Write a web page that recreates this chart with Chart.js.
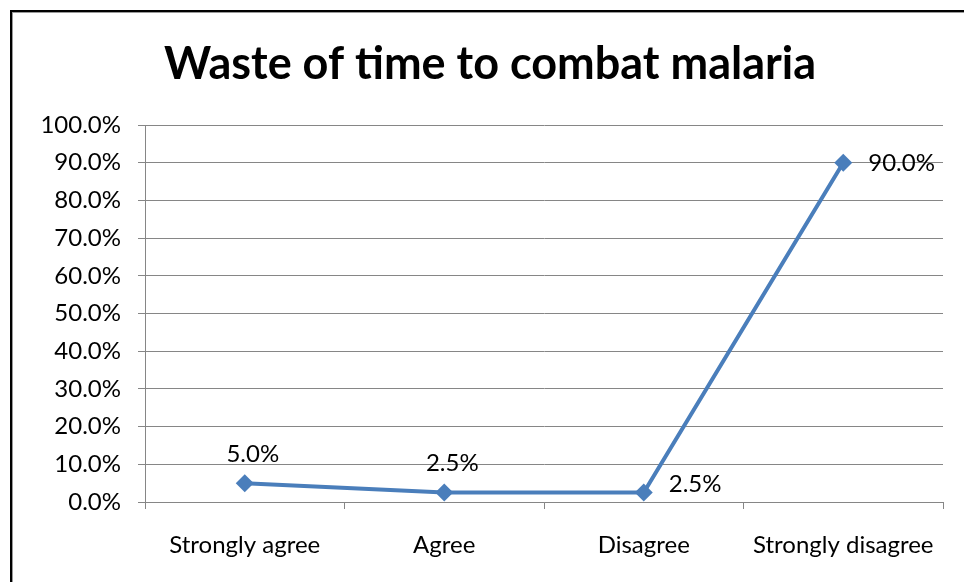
<!DOCTYPE html>
<html>
<head>
<meta charset="utf-8">
<script src="https://cdn.jsdelivr.net/npm/chart.js@4/dist/chart.umd.min.js"></script>
<style>
  html, body { margin: 0; padding: 0; background: #fff; overflow: hidden; }
  #wrap { position: relative; width: 964px; height: 582px; }
  #frame { position: absolute; left: 10px; top: 10px; width: 1000px; height: 700px;
           border-left: 2px solid #000; border-top: 2px solid #000;
           box-shadow: inset 1px 1px 0 #999; }
  canvas { position: absolute; left: 0; top: 0; }
</style>
</head>
<body>
<div id="wrap">
  <div id="frame"></div>
  <canvas id="c" width="964" height="582"></canvas>
</div>
<script>
const chartTitle = "Waste of time to combat malaria";
const categories = ["Strongly agree", "Agree", "Disagree", "Strongly disagree"];
const values = [5.0, 2.5, 2.5, 90.0];
const yTicks = [0, 10, 20, 30, 40, 50, 60, 70, 80, 90, 100];
const labelSide = ["top", "top", "right", "right"];

const FONT = "Lato, 'Open Sans', sans-serif";

const labelsPlugin = {
  id: 'valueLabels',
  afterDatasetsDraw(chart) {
    const ctx = chart.ctx;
    const meta = chart.getDatasetMeta(0);
    ctx.save();
    ctx.font = "24px " + FONT;
    ctx.fillStyle = "#000";
    ctx.textBaseline = "middle";
    meta.data.forEach((pt, i) => {
      const txt = values[i].toFixed(1) + "%";
      if (labelSide[i] === "top") {
        ctx.textAlign = "center";
        ctx.fillText(txt, pt.x + 8, pt.y - 29);
      } else {
        ctx.textAlign = "left";
        ctx.fillText(txt, pt.x + 25, pt.y - (values[i] < 10 ? 8 : -1));
      }
    });
    ctx.restore();
  },
  afterDraw(chart) {
    const ctx = chart.ctx;
    ctx.save();
    ctx.font = "bold 45px " + FONT;
    ctx.fillStyle = "#000";
    ctx.textAlign = "center";
    ctx.textBaseline = "middle";
    ctx.fillText(chartTitle, 490, 64);
    ctx.restore();
  }
};

new Chart(document.getElementById('c'), {
  type: 'line',
  data: {
    labels: categories,
    datasets: [{
      data: values,
      borderColor: '#4A7EBB',
      backgroundColor: '#4A7EBB',
      borderWidth: 4,
      pointStyle: 'rectRot',
      pointRadius: 9,
      pointHoverRadius: 9,
      pointBorderWidth: 0,
      tension: 0,
      fill: false
    }]
  },
  options: {
    responsive: false,
    animation: false,
    devicePixelRatio: 1,
    layout: { padding: { left: 0, right: 21, top: 125, bottom: 0 } },
    plugins: { legend: { display: false }, tooltip: { enabled: false }, title: { display: false } },
    scales: {
      x: {
        offset: true,
        grid: { offset: true, drawOnChartArea: false, color: '#868686', tickLength: 7, lineWidth: 1 },
        border: { color: '#868686', width: 1 },
        ticks: { color: '#000', font: { family: FONT, size: 24 }, padding: 22, maxRotation: 0 },
        afterFit(scale) { scale.height = 80; }
      },
      y: {
        min: 0, max: 100,
        afterBuildTicks(scale) { scale.ticks = yTicks.map(v => ({ value: v })); },
        grid: { color: '#868686', tickLength: 7, lineWidth: 1 },
        border: { color: '#868686', width: 1 },
        ticks: { color: '#000', font: { family: FONT, size: 24 }, padding: 17,
                 callback: v => Number(v).toFixed(1) + "%" },
        afterFit(scale) { scale.width = 145; }
      }
    }
  },
  plugins: [labelsPlugin]
});
</script>
</body>
</html>
